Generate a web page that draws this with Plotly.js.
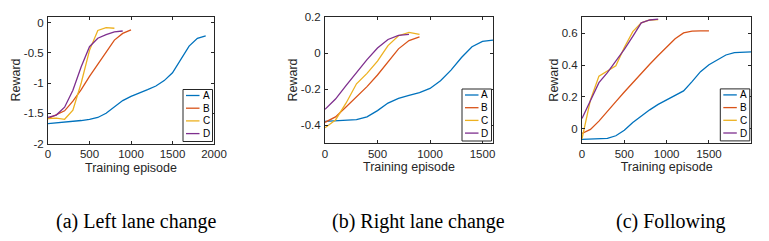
<!DOCTYPE html>
<html>
<head>
<meta charset="utf-8">
<script src="https://cdn.plot.ly/plotly-3.0.1.min.js"></script>
<style>html,body{margin:0;padding:0;background:#fff;}#chart{width:769px;height:241px;}</style>
</head>
<body>
<div id="chart"></div>
<script>
// ---------- data ----------
const seriesNames = ['A', 'B', 'C', 'D'];
const seriesColors = ['#0072BD', '#D95319', '#EDB120', '#7E2F8E'];
const captionTexts = ['(a) Left lane change', '(b) Right lane change', '(c) Following'];
const xTitle = 'Training episode';
const yTitle = 'Reward';

// (a) Left lane change
const leftEpA = [0,100,200,300,400,500,600,700,800,900,1000,1100,1200,1300,1400,1500,1600,1700,1800,1900];
const leftA   = [-1.67,-1.66,-1.65,-1.63,-1.62,-1.60,-1.57,-1.50,-1.39,-1.29,-1.22,-1.17,-1.11,-1.05,-0.96,-0.83,-0.61,-0.39,-0.26,-0.22];
const leftEpB = [0,100,200,300,400,500,600,700,800,900,1000];
const leftB   = [-1.59,-1.53,-1.46,-1.30,-1.11,-0.89,-0.69,-0.48,-0.29,-0.18,-0.12];
const leftEpC = [0,100,200,300,400,500,600,700,800];
const leftC   = [-1.59,-1.58,-1.60,-1.45,-1.00,-0.46,-0.13,-0.085,-0.094];
const leftEpD = [0,100,200,300,400,500,600,700,800,900];
const leftD   = [-1.57,-1.53,-1.40,-1.12,-0.73,-0.40,-0.26,-0.20,-0.155,-0.14];

// (b) Right lane change
const rightEpA = [0,100,200,300,400,500,600,700,800,900,1000,1100,1200,1300,1400,1500,1600];
const rightA   = [-0.38,-0.378,-0.376,-0.37,-0.355,-0.32,-0.278,-0.252,-0.236,-0.22,-0.197,-0.154,-0.095,-0.025,0.035,0.065,0.072];
const rightEpB = [0,100,200,300,400,500,600,700,800,900];
const rightB   = [-0.385,-0.355,-0.30,-0.245,-0.187,-0.122,-0.047,0.023,0.069,0.089];
const rightEpC = [0,100,200,300,400,500,600,700,800,900];
const rightC   = [-0.415,-0.372,-0.279,-0.171,-0.113,-0.045,0.041,0.096,0.115,0.104];
const rightEpD = [0,100,200,300,400,500,600,700,800];
const rightD   = [-0.313,-0.256,-0.181,-0.107,-0.037,0.028,0.075,0.098,0.103];

// (c) Following
const followEpA = [0,100,200,300,400,500,600,700,800,900,1000,1100,1200,1300,1400,1500,1600,1700,1800,1900,2000];
const followA   = [-0.068,-0.067,-0.066,-0.062,-0.045,-0.01,0.038,0.08,0.118,0.152,0.181,0.208,0.237,0.295,0.358,0.402,0.434,0.463,0.478,0.481,0.482];
const followEpB = [0,100,200,300,400,500,600,700,800,900,1000,1100,1200,1300,1400,1500];
const followB   = [-0.03,-0.005,0.047,0.112,0.17,0.23,0.29,0.35,0.405,0.46,0.515,0.565,0.602,0.613,0.614,0.615];
const followEpC = [0,100,200,300,400,500,600,700,800,900];
const followC   = [-0.065,0.18,0.33,0.36,0.395,0.51,0.61,0.665,0.683,0.685];
const followEpD = [0,100,200,300,400,500,600,700,800,900];
const followD   = [0.063,0.18,0.289,0.352,0.422,0.498,0.58,0.665,0.683,0.688];

// tick values / labels
const leftXTicks = [0,500,1000,1500,2000];
const leftXLabels = ['0','500','1000','1500','2000'];
const leftYTicks = [-2,-1.5,-1,-0.5,0];
const leftYLabels = ['-2','-1.5','-1','-0.5','0'];
const rightXTicks = [0,500,1000,1500];
const rightXLabels = ['0','500','1000','1500'];
const rightYTicks = [-0.4,-0.2,0,0.2];
const rightYLabels = ['-0.4','-0.2','0','0.2'];
const followXTicks = [0,500,1000,1500];
const followXLabels = ['0','500','1000','1500'];
const followYTicks = [0,0.2,0.4,0.6];
const followYLabels = ['0','0.2','0.4','0.6'];

// ---------- layout ----------
const W = 769, H = 241;
const panels = [
  {xs:[leftEpA,leftEpB,leftEpC,leftEpD], ys:[leftA,leftB,leftC,leftD],
   xr:[0,2000], yr:[-2,0.1], xt:leftXTicks, xl:leftXLabels, yt:leftYTicks, yl:leftYLabels,
   px:[48,214], py:[16.5,143.5], cap:136.7},
  {xs:[rightEpA,rightEpB,rightEpC,rightEpD], ys:[rightA,rightB,rightC,rightD],
   xr:[0,1600], yr:[-0.5,0.2], xt:rightXTicks, xl:rightXLabels, yt:rightYTicks, yl:rightYLabels,
   px:[325,493], py:[17,143], cap:418},
  {xs:[followEpA,followEpB,followEpC,followEpD], ys:[followA,followB,followC,followD],
   xr:[0,2000], yr:[-0.09,0.7], xt:followXTicks, xl:followXLabels, yt:followYTicks, yl:followYLabels,
   px:[582,751.3], py:[17.3,142.9], cap:670.3}
];

const axisColor = '#262626';
const tickFont = {family:'Liberation Sans, Arial, sans-serif', size:11.5, color:axisColor};
const titleFont = {family:'Liberation Sans, Arial, sans-serif', size:12.5, color:axisColor};

const traces = [];
const layout = {
  width: W, height: H,
  margin: {l:0, r:0, t:0, b:0, pad:0},
  paper_bgcolor: '#fff', plot_bgcolor: '#fff',
  showlegend: false,
  shapes: [], annotations: []
};

panels.forEach((p, k) => {
  const sfx = k === 0 ? '' : String(k + 1);
  for (let i = 0; i < 4; i++) {
    traces.push({
      type: 'scatter', mode: 'lines',
      x: p.xs[i], y: p.ys[i], name: seriesNames[i],
      xaxis: 'x' + sfx, yaxis: 'y' + sfx,
      line: {color: seriesColors[i], width: 1.3},
      hoverinfo: 'skip'
    });
  }
  const common = {
    showline: true, mirror: 'ticks', linecolor: axisColor, linewidth: 1,
    ticks: 'inside', ticklen: 3, tickcolor: axisColor, tickwidth: 1,
    showgrid: false, zeroline: false, tickfont: tickFont, fixedrange: true
  };
  layout['xaxis' + sfx] = Object.assign({}, common, {
    domain: [p.px[0] / W, p.px[1] / W], range: p.xr, anchor: 'y' + sfx,
    tickmode: 'array', tickvals: p.xt, ticktext: p.xl, ticklabelstandoff: 0,
    title: {text: xTitle, font: titleFont, standoff: 3}
  });
  layout['yaxis' + sfx] = Object.assign({}, common, {
    domain: [1 - p.py[1] / H, 1 - p.py[0] / H], range: p.yr, anchor: 'x' + sfx,
    tickmode: 'array', tickvals: p.yt, ticktext: p.yl, ticklabelstandoff: 1,
    title: {text: yTitle, font: titleFont, standoff: 0}
  });

  // legend box (bottom-right inside axes)
  const R = p.px[1], B = p.py[1];
  const fx = v => v / W, fy = v => 1 - v / H;
  layout.shapes.push({type:'rect', xref:'paper', yref:'paper',
    x0: fx(R - 31), x1: fx(R - 1.5), y0: fy(B - 2), y1: fy(B - 54),
    line:{color:axisColor, width:1}, fillcolor:'#fff', layer:'above'});
  for (let i = 0; i < 4; i++) {
    const yy = B - 48 + i * 12.7;
    layout.shapes.push({type:'line', xref:'paper', yref:'paper',
      x0: fx(R - 28), x1: fx(R - 14.5), y0: fy(yy), y1: fy(yy),
      line:{color: seriesColors[i], width: 1.3}, layer:'above'});
    layout.annotations.push({xref:'paper', yref:'paper', x: fx(R - 8), y: fy(yy),
      text: seriesNames[i], showarrow:false, xanchor:'center', yanchor:'middle',
      font:{family:'Liberation Sans, Arial, sans-serif', size:10, color:'#000'}});
  }
  // caption
  layout.annotations.push({xref:'paper', yref:'paper', x: p.cap / W, y: 1 - 221 / H,
    text: captionTexts[k], showarrow:false, xanchor:'center', yanchor:'middle',
    font:{family:'Liberation Serif, Times New Roman, serif', size:20, color:'#000'}});
});

Plotly.newPlot('chart', traces, layout, {displayModeBar:false, staticPlot:true});
</script>
</body>
</html>
